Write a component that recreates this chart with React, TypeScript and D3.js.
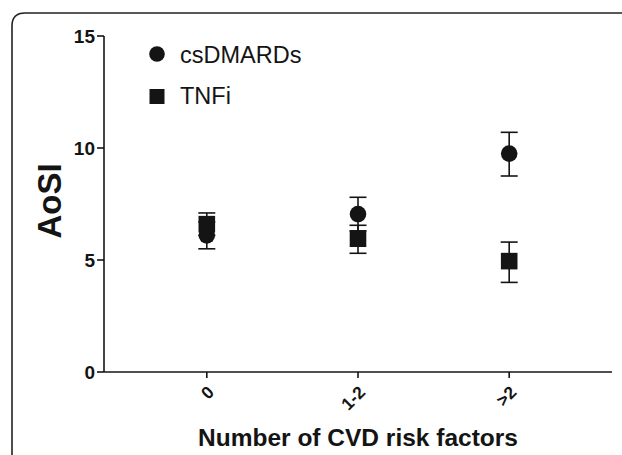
import React from "react";
import * as d3 from "d3";

const categories = ["0", "1-2", ">2"];
const csdmardsMean = [6.1, 7.05, 9.75];
const csdmardsLow = [5.5, 6.3, 8.75];
const csdmardsHigh = [6.7, 7.8, 10.7];
const tnfiMean = [6.6, 5.95, 4.95];
const tnfiLow = [6.1, 5.3, 4.0];
const tnfiHigh = [7.1, 6.55, 5.8];
const yTicks = [0, 5, 10, 15];

const W = 622;
const H = 455;

export default function App() {
  const x = d3.scalePoint<string>().domain(categories).range([104, 612]).padding(0.68);
  const y = d3.scaleLinear().domain([0, 15]).range([372, 36]);
  const ink = "#141414";
  const cap = 8.5;

  const errBars = (means: number[], lows: number[], highs: number[], key: string) =>
    categories.map((c, i) => {
      const cx = x(c)!;
      return (
        <g key={key + i} stroke={ink} strokeWidth={1.6}>
          <line x1={cx} x2={cx} y1={y(lows[i])} y2={y(highs[i])} />
          <line x1={cx - cap} x2={cx + cap} y1={y(lows[i])} y2={y(lows[i])} />
          <line x1={cx - cap} x2={cx + cap} y1={y(highs[i])} y2={y(highs[i])} />
        </g>
      );
    });

  return (
    <svg width={W} height={H} style={{ position: "absolute", left: 0, top: 0, background: "#fff" }}
      fontFamily="Arial, 'Liberation Sans', Helvetica, sans-serif">
      <rect x={0} y={0} width={W} height={H} fill="#fff" />
      {/* frame */}
      <path d={`M12,${H + 5} L12,26 Q12,13 25,13 L${W + 5},13`} fill="none" stroke="#222" strokeWidth={1.6} />

      {/* y axis */}
      <line x1={104} x2={104} y1={y(15)} y2={y(0)} stroke={ink} strokeWidth={1.6} />
      {yTicks.map((t) => (
        <g key={t}>
          <line x1={97} x2={104} y1={y(t)} y2={y(t)} stroke={ink} strokeWidth={1.6} />
          <text x={95} y={y(t)} dy="0.36em" textAnchor="end" fontWeight="bold" fontSize={19} fill={ink}>
            {t}
          </text>
        </g>
      ))}

      {/* x axis */}
      <line x1={104} x2={612} y1={y(0)} y2={y(0)} stroke={ink} strokeWidth={1.6} />
      {categories.map((c) => (
        <g key={c}>
          <line x1={x(c)!} x2={x(c)!} y1={y(0)} y2={y(0) + 6} stroke={ink} strokeWidth={1.6} />
          <text
            transform={`translate(${x(c)! + 4},${y(0) + 17}) rotate(-45)`}
            textAnchor="end"
            dy="0.35em"
            fontWeight="bold"
            fontSize={17.5}
            fill={ink}
          >
            {c}
          </text>
        </g>
      ))}

      {/* axis titles */}
      <text x={358} y={446} textAnchor="middle" fontWeight="bold" fontSize={24.5} fill={ink}>
        Number of CVD risk factors
      </text>
      <text transform={`translate(61,201) rotate(-90)`} textAnchor="middle" fontWeight="bold" fontSize={33} fill={ink}>
        AoSI
      </text>

      {/* error bars */}
      {errBars(csdmardsMean, csdmardsLow, csdmardsHigh, "c")}
      {errBars(tnfiMean, tnfiLow, tnfiHigh, "t")}

      {/* markers */}
      {categories.map((c, i) => (
        <circle key={"cm" + i} cx={x(c)!} cy={y(csdmardsMean[i])} r={8.3} fill={ink} />
      ))}
      {categories.map((c, i) => (
        <rect key={"tm" + i} x={x(c)! - 8.3} y={y(tnfiMean[i]) - 8.3} width={16.6} height={16.6} fill={ink} />
      ))}

      {/* legend */}
      <circle cx={157} cy={54} r={7.8} fill={ink} />
      <text x={180} y={62.5} fontSize={23.5} fill={ink}>csDMARDs</text>
      <rect x={149.5} y={89} width={15} height={15} fill={ink} />
      <text x={180} y={104} fontSize={23.5} fill={ink}>TNFi</text>
    </svg>
  );
}
